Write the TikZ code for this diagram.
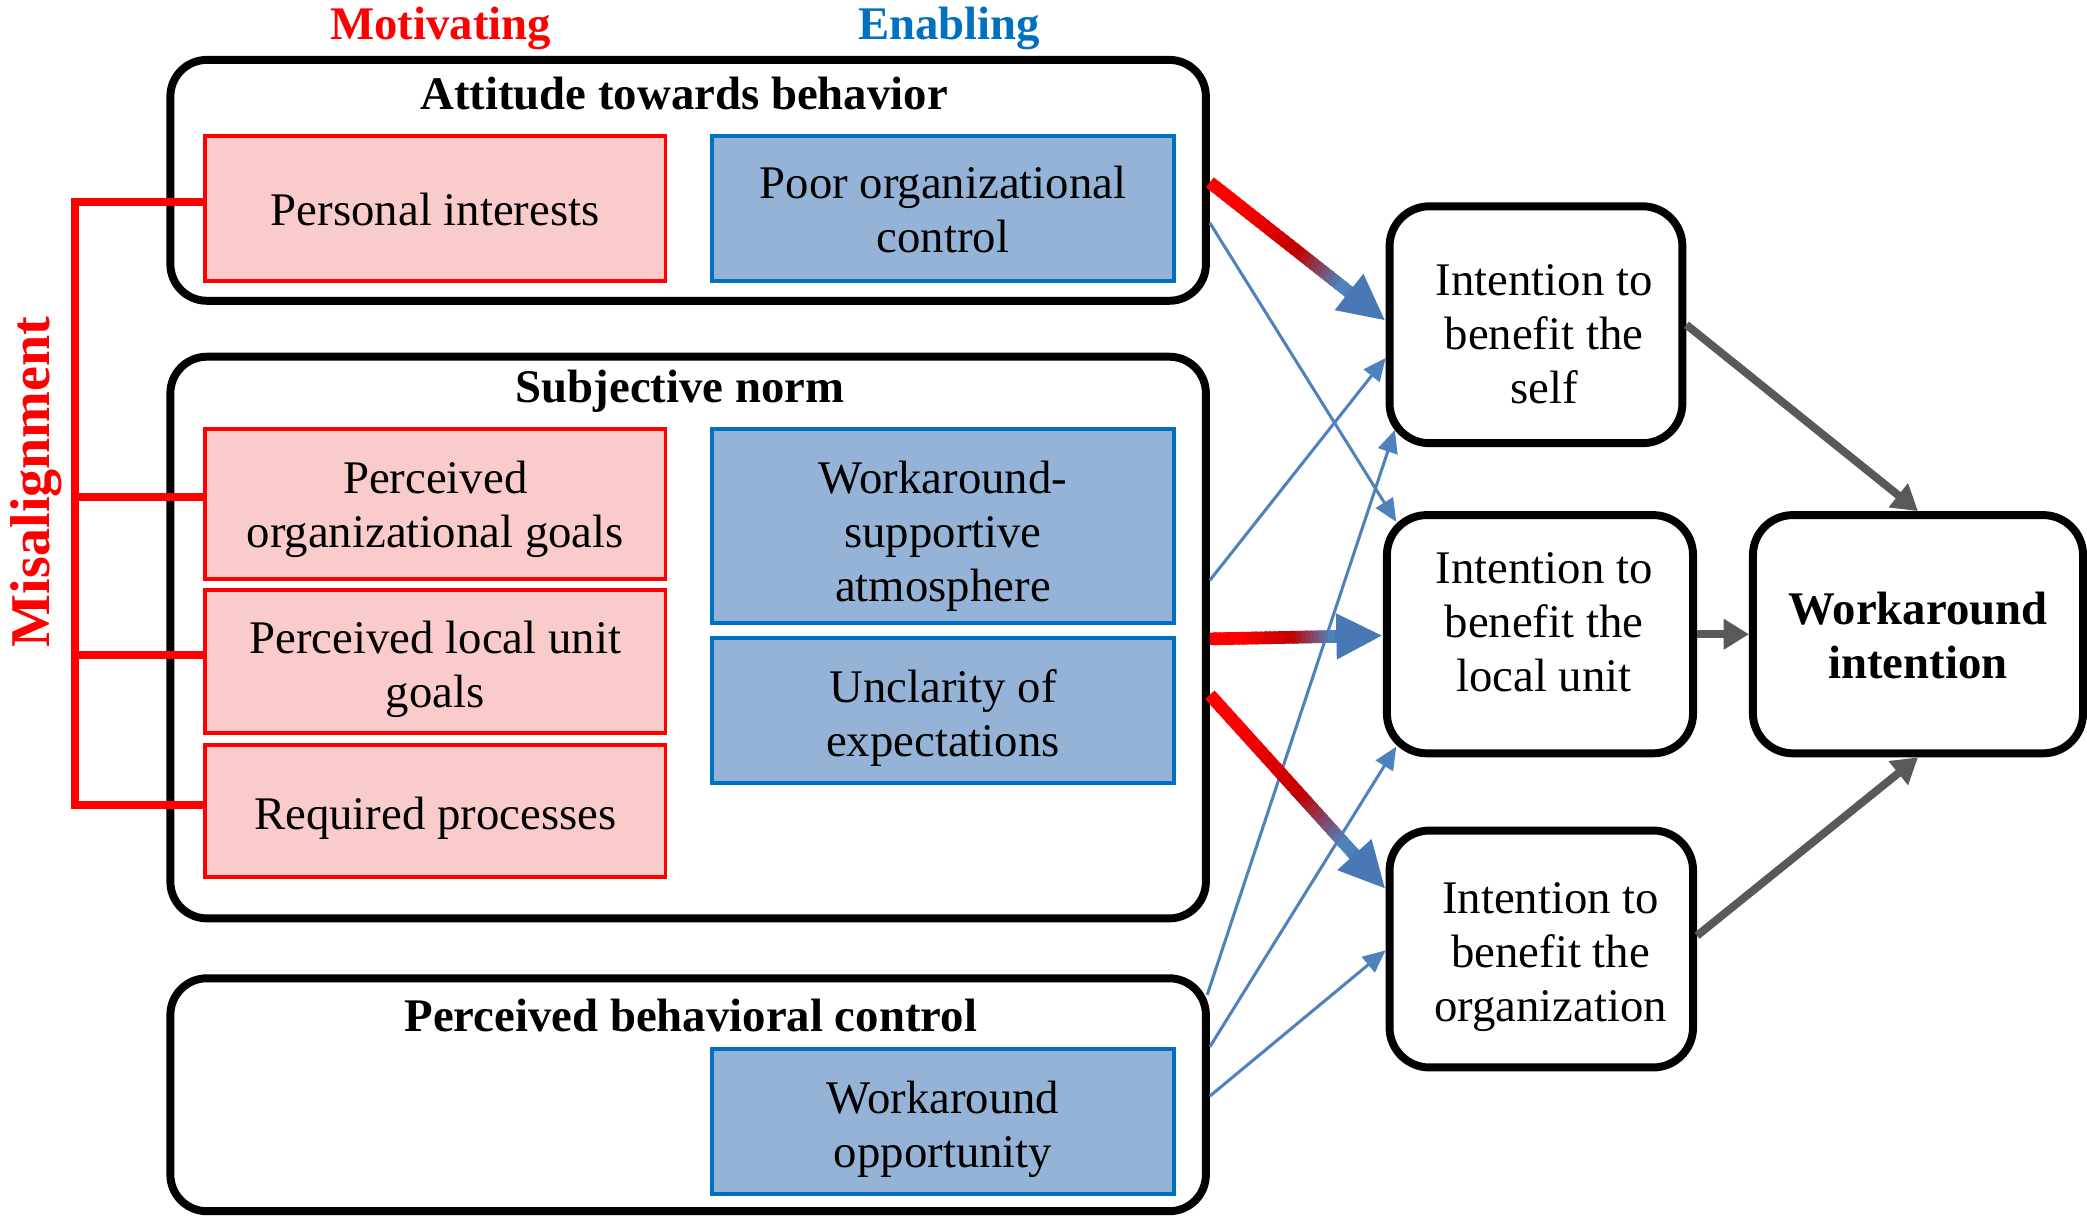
\documentclass[tikz,border=0pt]{standalone}
\usepackage{fontspec}
\setmainfont{Liberation Serif}
\usetikzlibrary{arrows.meta,calc,fit}

\definecolor{pinkfill}{RGB}{249,203,203}
\definecolor{redline}{RGB}{255,0,0}
\definecolor{deepred}{RGB}{192,0,0}
\definecolor{bluefill}{RGB}{149,179,215}
\definecolor{blueline}{RGB}{0,112,192}
\definecolor{arrowblue}{RGB}{79,129,189}
\definecolor{headblue}{RGB}{72,120,182}
\definecolor{arrowgray}{RGB}{89,89,89}

% thick arrow whose shaft fades from red to blue
\newcommand\gradlink[2]{%
  \coordinate (gl-end) at ($(#2)!0.55cm!(#1)$);
  \coordinate (gl-head) at ($(#2)!0.72cm!(#1)$);
  \foreach \k in {1,...,30}{%
    \pgfmathsetmacro\ta{(\k-1)/30}%
    \pgfmathsetmacro\tb{min(1,(\k+0.5)/30)}%
    \pgfmathsetmacro\pa{min(100,max(0,((\k-0.5)/30-0.2)/0.4*100))}%
    \pgfmathsetmacro\pb{min(100,max(0,((\k-0.5)/30-0.6)/0.28*100))}%
    \colorlet{gradmid}{deepred!\pa!redline}%
    \colorlet{gradseg}{arrowblue!\pb!gradmid}%
    \draw[gradseg, line width=0.19cm] ($(#1)!\ta!(gl-end)$) -- ($(#1)!\tb!(gl-end)$);
  }
  \draw[headblue, line width=0.19cm, -{Triangle[length=0.7cm,width=0.64cm]}] (gl-head) -- (#2);
}

\begin{document}
\begin{tikzpicture}[x=0.02cm, y=-0.02cm,
  font=\fontsize{20}{23}\selectfont,
  group/.style={draw=black, line width=3.4pt, rounded corners=0.55cm, inner sep=0pt},
  motive/.style={draw=redline, fill=pinkfill, line width=1.7pt, inner sep=0pt},
  enable/.style={draw=blueline, fill=bluefill, line width=1.7pt, inner sep=0pt},
  intent/.style={draw=black, line width=3.4pt, rounded corners=0.6cm, inner sep=0pt},
  label text/.style={align=center, inner sep=0pt},
  heading/.style={font=\fontsize{20}{23}\selectfont\bfseries, inner sep=0pt},
  bracketline/.style={draw=redline, line width=0.12cm},
  thinlink/.style={draw=arrowblue, line width=1.3pt, -{Triangle[length=0.34cm,width=0.3cm]}},
  graylink/.style={draw=arrowgray, line width=0.12cm, -{Triangle[length=0.38cm,width=0.44cm]}},
]
\useasboundingbox (0,0) rectangle (1568,915);

% column headings
\node[heading, text=redline] (motiv) at (331,21) {Motivating};
\node[heading, text=blueline] (enab) at (713,21) {Enabling};

% attitude towards behavior
\node[group, fit={(128,45) (906,226)}] (att) {};
\node[heading] (att-t) at (514,70) {Attitude towards behavior};
\node[motive, fit={(154,102) (500,211)}] (pi) {};
\node[label text] (pi-t) at ($(pi.center)+(0,1)$) {Personal interests};
\node[enable, fit={(535,102) (882,211)}] (poc) {};
\node[label text] (poc-t) at ($(poc.center)+(0,1)$) {Poor organizational\\control};

% subjective norm
\node[group, fit={(128,268) (906,690)}] (sn) {};
\node[heading] (sn-t) at (511,294) {Subjective norm};
\node[motive, fit={(154,322) (500,435)}] (pog) {};
\node[label text] (pog-t) at ($(pog.center)+(0,4)$) {Perceived\\organizational goals};
\node[motive, fit={(154,443) (500,551)}] (plug) {};
\node[label text] (plug-t) at ($(plug.center)+(0,6)$) {Perceived local unit\\goals};
\node[motive, fit={(154,560) (500,659)}] (rp) {};
\node[label text] (rp-t) at ($(rp.center)+(0,5)$) {Required processes};
\node[enable, fit={(535,322) (882,468)}] (wsa) {};
\node[label text] (wsa-t) at ($(wsa.center)+(0,8)$) {Workaround-\\supportive\\atmosphere};
\node[enable, fit={(535,479) (882,588)}] (uoe) {};
\node[label text] (uoe-t) at ($(uoe.center)+(0,6)$) {Unclarity of\\expectations};

% perceived behavioral control
\node[group, fit={(128,735) (906,910)}] (pbc) {};
\node[heading] (pbc-t) at (519,763) {Perceived behavioral control};
\node[enable, fit={(535,788) (882,897)}] (wo) {};
\node[label text] (wo-t) at ($(wo.center)+(0,6)$) {Workaround\\opportunity};

% intentions
\node[intent, fit={(1044,155) (1264,333)}] (self) {};
\node[label text] (self-t) at ($(self.center)+(6,7)$) {Intention to\\benefit the\\self};
\node[intent, fit={(1042,387) (1272,566)}] (local) {};
\node[label text] (local-t) at ($(local.center)+(3,-9)$) {Intention to\\benefit the\\local unit};
\node[intent, fit={(1044,624) (1272,802)}] (org) {};
\node[label text] (org-t) at ($(org.center)+(7,6)$) {Intention to\\benefit the\\organization};
\node[intent, fit={(1317,387) (1565,566)}] (wi) {};
\node[label text, font=\fontsize{20}{23}\selectfont\bfseries] (wi-t) at ($(wi.center)+(0,1)$) {Workaround\\intention};

% misalignment bracket
\node[font=\fontsize{24}{28}\selectfont\bfseries, text=redline, rotate=90, inner sep=0pt] (mis) at (27,362) {Misalignment};
\coordinate (brk) at (56,0);
\draw[bracketline] ($(pi.west)+(0,-5)$) -- ($(brk |- pi.west)+(0,-5)$) -- ($(brk |- rp.west)+(0,-5)$) -- ($(rp.west)+(0,-5)$);
\draw[bracketline] ($(brk |- pog.west)+(0,-5)$) -- ($(pog.west)+(0,-5)$);
\draw[bracketline] ($(brk |- plug.west)+(0,-5)$) -- ($(plug.west)+(0,-5)$);

% enabling influences
\draw[thinlink] ($(att.east)+(0,32)$) -- ($(local.north west)+(10,8)$);
\draw[thinlink] ($(sn.east)+(0,-43)$) -- ($(self.west)+(0,25)$);
\draw[thinlink] ($(pbc.east)+(-2,-75)$) -- ($(self.south west)+(7,-13)$);
\draw[thinlink] ($(pbc.east)+(0,-36)$) -- ($(local.south west)+(10,-8)$);
\draw[thinlink] ($(pbc.east)+(0,1)$) -- ($(org.west)+(0,1)$);

% motivating influences
\coordinate (g1s) at ($(att.east)+(0,1.5)$);
\coordinate (g1e) at ($(self.west)+(0,-3)$);
\gradlink{g1s}{g1e}
\coordinate (g2s) at ($(sn.east)+(0,1)$);
\coordinate (g2e) at ($(local.west)+(0,1)$);
\gradlink{g2s}{g2e}
\coordinate (g3s) at ($(sn.east)+(0,43)$);
\coordinate (g3e) at ($(org.west)+(0,-45)$);
\gradlink{g3s}{g3e}

% intentions into workaround intention
\draw[graylink] (self.east) -- (wi.north);
\draw[graylink] (local.east) -- (wi.west);
\draw[graylink] ($(org.east)+(0,-10)$) -- (wi.south);
\end{tikzpicture}
\end{document}
